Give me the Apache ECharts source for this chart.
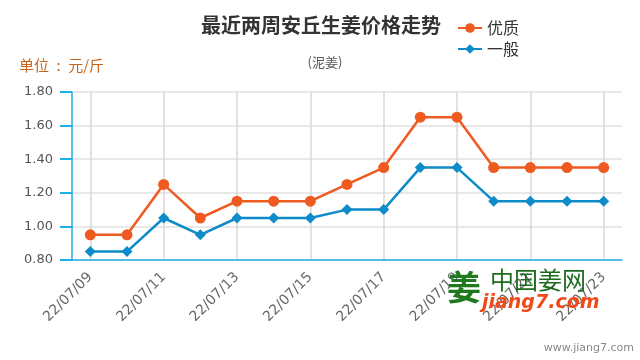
<!DOCTYPE html>
<html>
<head>
<meta charset="utf-8">
<script src="https://cdn.jsdelivr.net/npm/echarts@6/dist/echarts.min.js"></script>
<style>html,body{margin:0;padding:0;background:#fff}#c{width:640px;height:360px}</style>
</head>
<body>
<div id="c"></div>
<script>
const categories = ['22/07/09','22/07/10','22/07/11','22/07/12','22/07/13','22/07/14','22/07/15','22/07/16','22/07/17','22/07/18','22/07/19','22/07/20','22/07/21','22/07/22','22/07/23'];
const premium = [0.95,0.95,1.25,1.05,1.15,1.15,1.15,1.25,1.35,1.65,1.65,1.35,1.35,1.35,1.35];
const ordinary = [0.85,0.85,1.05,0.95,1.05,1.05,1.05,1.10,1.10,1.35,1.35,1.15,1.15,1.15,1.15];
const seriesNames = ['优质','一般'];

const F = '"Noto Sans CJK SC", "Noto Sans", sans-serif';
const chart = echarts.init(document.getElementById('c'));
chart.setOption({
  animation: false,
  textStyle: {fontFamily: F},
  title: [{
    text: '最近两周安丘生姜价格走势',
    left: 316, top: 10, textAlign: 'center',
    textStyle: {fontSize: 20, fontWeight: 'bold', color: '#333', fontFamily: F}
  },{
    text: '(泥姜)',
    left: 320, top: 51, textAlign: 'center',
    textStyle: {fontSize: 13, fontWeight: 'normal', color: '#555', fontFamily: F}
  }],
  legend: {
    orient: 'vertical', left: 452, top: 15, itemGap: 5,
    itemWidth: 24, itemHeight: 12,
    textStyle: {fontSize: 16, color: '#333', fontFamily: F},
    data: seriesNames
  },
  graphic: [
    {type: 'text', left: 19, top: 58, style: {text: '单位\u2002:\u2002元/斤', fontSize: 15, fill: '#c8651b', fontFamily: F}},
    {type: 'text', left: 447, top: 270, z: 100, style: {text: '姜', fontSize: 34, fontWeight: 'bold', fill: '#1f7a1f', fontFamily: F}},
    {type: 'text', left: 490, top: 268, z: 100, style: {text: '中国姜网', fontSize: 24, fill: '#1d6b1f', fontFamily: F}},
    {type: 'text', left: 482, top: 294, z: 100, style: {text: 'jiang7.com', fontSize: 19, fontWeight: 'bold', fontStyle: 'italic', fill: '#f04a1a', fontFamily: '"DejaVu Sans", sans-serif'}},
    {type: 'text', right: 6, bottom: 6, style: {text: 'www.jiang7.com', fontSize: 11, fill: '#888', fontFamily: '"DejaVu Sans", sans-serif'}}
  ],
  grid: {left: 72, right: 18, top: 92, bottom: 100},
  xAxis: {
    type: 'category',
    data: categories,
    boundaryGap: true,
    axisLine: {lineStyle: {color: '#1bb0e6', width: 1.5}},
    axisTick: {alignWithLabel: true, interval: 1, length: 12, lineStyle: {color: '#1bb0e6', width: 1.5}},
    axisLabel: {interval: 1, rotate: 45, color: '#666', fontSize: 14, fontFamily: '"DejaVu Sans", sans-serif', margin: 15},
    splitLine: {show: true, alignWithLabel: true, interval: 1, lineStyle: {color: '#d8d8d8', width: 1.5}}
  },
  yAxis: {
    type: 'value', min: 0.8, max: 1.8, interval: 0.2,
    axisLine: {show: true, lineStyle: {color: '#1bb0e6', width: 1.5}},
    axisTick: {show: true, inside: false, length: 12, lineStyle: {color: '#1bb0e6', width: 2}},
    axisLabel: {color: '#555', fontSize: 13, fontFamily: '"DejaVu Sans", sans-serif', margin: 19, formatter: v => v.toFixed(2)},
    splitLine: {show: true, lineStyle: {color: '#e0e0e0', width: 1.5}}
  },
  series: [{
    name: seriesNames[0], type: 'line', data: premium,
    symbol: 'circle', symbolSize: 11,
    itemStyle: {color: '#ee5a20'},
    lineStyle: {width: 2.5, color: '#ee5a20'}
  },{
    name: seriesNames[1], type: 'line', data: ordinary,
    symbol: 'diamond', symbolSize: 11,
    itemStyle: {color: '#0e8bc9'},
    lineStyle: {width: 2.5, color: '#0e8bc9'}
  }]
});
</script>
</body>
</html>
